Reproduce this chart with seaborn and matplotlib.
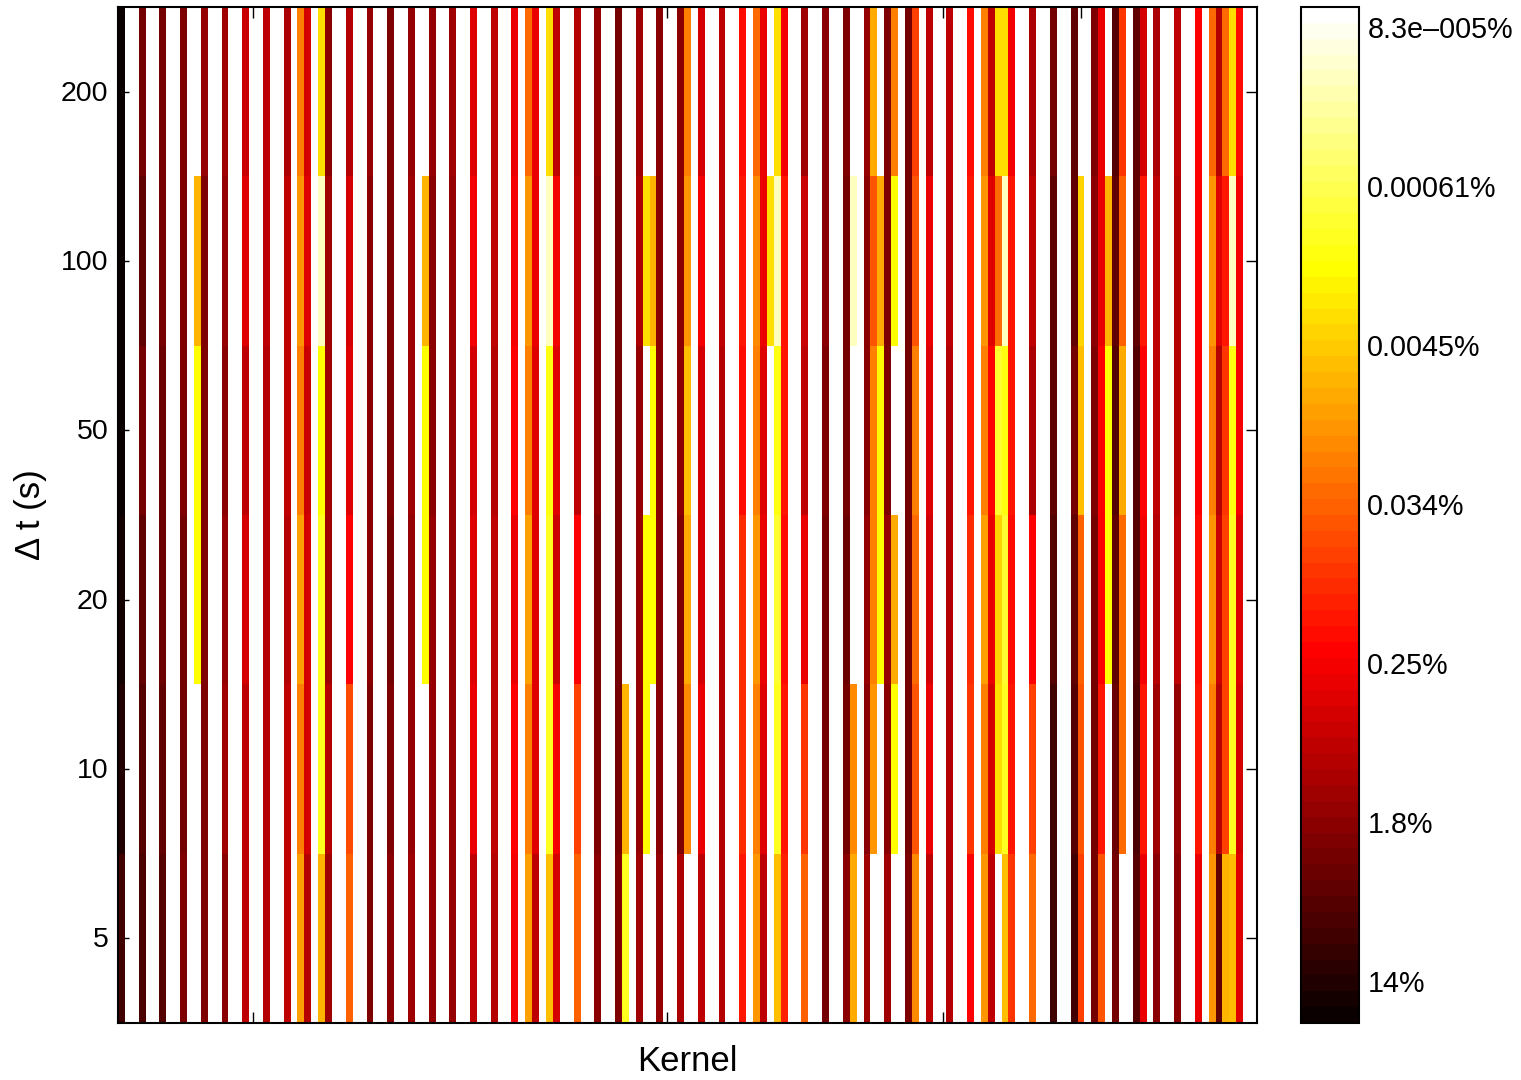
# heatmap of kernel share (%) per time window
import numpy as np
import pandas as pd
import matplotlib
matplotlib.use("Agg")
import matplotlib.pyplot as plt
from matplotlib.colors import LogNorm
from matplotlib.transforms import ScaledTranslation
import seaborn as sb

nan = float("nan")

n_kernels = 165
kernels = [1, 4, 7, 10, 12, 13, 16, 19, 22, 25,
           27, 28, 30, 31, 34, 37, 40, 43, 45, 46,
           49, 52, 55, 58, 60, 61, 63, 64, 67, 70,
           73, 74, 76, 77, 78, 79, 82, 83, 85, 88,
           91, 93, 94, 95, 96, 97, 100, 103, 106, 107,
           109, 110, 111, 112, 113, 115, 116, 118, 121, 124,
           126, 127, 128, 129, 130, 133, 136, 139, 140, 142,
           143, 144, 145, 146, 148, 149, 151, 154, 157, 159,
           160, 161, 162, 163]
delta_t = [200, 100, 50, 20, 10, 5]

pct_200 = [21.2, 2.88, 2.88, 2.36, nan, 1.58, 1.30, .583, .711, 1.06,
           .0196, .477, .0032, 1.93, .869, 1.58, 2.36, 1.58, nan, 1.58,
           1.30, .391, .711, .320, .0292, .320, .0032, .711, .869, 1.58,
           2.88, nan, 1.30, nan, nan, 1.93, 1.93, .0196, .477, .711,
           .176, .0292, .320, nan, .0032, .262, 1.30, 1.93, 2.36, nan,
           1.58, .0088, nan, 2.36, .0196, 2.88, .0648, .711, .711, .176,
           .0196, .711, .0032, .0032, .262, 1.06, 2.88, 4.30, nan, 2.36,
           .320, nan, 5.25, .0791, 4.30, .477, 1.06, .711, .215, .0292,
           .869, .0292, .0032, .176]
pct_100 = [21.2, 4.30, 2.88, 2.36, .0072, 2.36, 1.58, .391, .711, .711,
           .0131, .391, .00016, 1.30, .477, 1.93, 2.36, 1.30, .0072, 1.93,
           1.58, .262, .711, .262, .0131, .320, .00016, .262, .711, 1.93,
           2.88, nan, 1.06, .0032, .0072, 1.93, 1.93, .0131, .262, .711,
           .144, .0160, .320, .0032, .00016, .144, .583, 1.93, 2.88, .00016,
           1.93, .0435, .0088, 2.36, .0018, 2.88, .0435, .320, .711, .144,
           .0131, .391, .0292, .00016, .144, .711, 4.30, 4.30, .0040, 1.93,
           .320, .0072, 4.30, .0356, 4.30, .144, .711, .869, .215, .0131,
           .391, .144, .00016, .262]
pct_50 = [21.2, 2.88, 3.52, 2.36, .0018, 2.36, 1.93, .711, .869, .711,
          .0196, .583, .0018, 1.30, .391, 1.93, 2.36, 1.30, .0018, 1.93,
          1.58, .477, .869, .215, .0196, .391, .0015, .391, .711, 1.93,
          2.88, nan, 1.58, nan, .0018, 1.93, 1.93, .0059, .477, .869,
          .176, .0196, .391, nan, .0015, .144, .711, 2.36, 2.88, nan,
          1.93, .0196, .0018, 2.36, nan, 2.88, .0196, .391, .869, .144,
          .0196, .215, .00098, .0015, .144, 1.06, 4.30, 2.88, .0059, 2.36,
          .215, .0018, 5.25, .0088, 5.25, .215, .711, .869, .215, .0196,
          .869, .0791, .0015, .262]
pct_20 = [17.4, 4.30, 3.52, 2.88, .0018, 2.36, 1.58, .477, .869, .869,
          .0107, .477, .0012, 1.30, .215, 1.93, 2.88, 1.58, .0018, 1.58,
          1.58, .391, .711, .320, .0107, .391, .0012, .583, .215, 2.36,
          2.88, nan, 1.58, .0018, .0018, 1.93, 2.36, .0088, .477, .869,
          .0966, .0131, .320, nan, .00098, .176, .320, 2.88, 3.52, nan,
          1.58, .0196, .0018, 1.58, .0088, 2.88, .0292, .477, .869, .0966,
          .0107, .320, .0040, .00098, .176, .215, 5.25, 4.30, .0356, 2.88,
          .215, .0018, 4.30, .0292, 5.25, .262, .869, .711, .176, .0131,
          .583, .0648, .0012, .391]
pct_10 = [14.2, 5.25, 4.30, 2.88, nan, 2.36, 1.30, .711, .869, .711,
          .0196, .477, .0012, .869, .0531, 2.36, 2.36, 1.58, nan, 1.58,
          1.58, .320, .711, .215, .0196, .391, .0012, .262, .0648, 2.36,
          2.88, .0072, 1.58, .0018, nan, 1.93, 2.36, .0160, .320, .869,
          .0966, .0196, .391, nan, .0012, .144, .0791, 2.88, 2.88, .0160,
          1.93, .0131, nan, 1.93, .0018, 2.88, .0435, .320, .869, .0791,
          .0196, .477, .0032, .0012, .144, .0648, 7.82, 5.25, .0435, 2.88,
          .144, nan, 3.52, .0292, 6.41, .144, 1.30, 1.58, .144, .0196,
          .869, .0648, .0012, .477]
pct_5 = [7.82, 6.41, 5.25, 2.36, nan, 2.36, 1.93, .711, .869, .711,
         .0107, .869, .0072, 1.30, .0356, 2.36, 1.93, 1.30, nan, 1.58,
         1.58, .711, .869, .262, .0107, .711, .0059, .477, .0356, 1.93,
         2.36, .0012, 1.30, nan, nan, 1.58, 1.06, nan, .711, .869,
         .144, .0131, .711, nan, .0059, .118, .0356, 2.88, 1.93, .0088,
         1.30, nan, nan, 1.30, nan, 2.36, .0160, .711, .869, .215,
         .0131, .711, nan, .0059, .0791, .0292, 7.82, 7.82, .0648, 2.88,
         .0435, nan, 2.88, nan, 5.25, .320, 1.93, 1.93, .320, .0131,
         4.30, .0072, .0059, .391]

cbar_ticks = [8.33e-5, 0.000615, 0.004545, 0.03358, 0.2482, 1.834, 13.55]
cbar_labels = ["8.3e\u2013005%", "0.00061%", "0.0045%", "0.034%", "0.25%", "1.8%", "14%"]
x_ticks = [20, 40, 60, 80, 100, 120, 140, 160]

sb.set_style("white")
plt.rcParams["font.family"] = ["Liberation Sans", "DejaVu Sans"]
plt.rcParams["text.color"] = "black"
plt.rcParams["axes.labelcolor"] = "black"
plt.rcParams["xtick.labelcolor"] = "black"
plt.rcParams["ytick.labelcolor"] = "black"

df = pd.DataFrame([pct_200, pct_100, pct_50, pct_20, pct_10, pct_5], index=delta_t, columns=kernels)
df = df.reindex(columns=range(1, n_kernels + 1))

W, H = 1521, 1080
fig = plt.figure(figsize=(W / 100, H / 100), dpi=100)
ax = fig.add_axes([118 / W, 1 - 1023 / H, 1139 / W, 1016 / H])
cax = fig.add_axes([1301 / W, 1 - 1023 / H, 58 / W, 1016 / H])

cmap = plt.get_cmap("hot_r", 64)
sb.heatmap(df, ax=ax, cbar_ax=cax, cmap=cmap, norm=LogNorm(vmin=6.39e-5, vmax=22.7), xticklabels=False, yticklabels=True)

ax.set_xticks([k - 0.5 for k in x_ticks])
ax.set_xticklabels([])
ax.tick_params(axis="y", labelrotation=0, labelsize=20.5, pad=7, labelcolor="black")
ax.tick_params(direction="in", length=8, width=1, left=True, right=True, top=True, bottom=True, color="black")
ax.set_xlabel("Kernel", fontsize=25, labelpad=12, color="black")
ax.set_ylabel("\u0394 t (s)", fontsize=25, labelpad=10, color="black")
for s in ax.spines.values():
    s.set_visible(True)
    s.set_linewidth(1.5)
    s.set_color("black")

cb = ax.collections[0].colorbar
cb.outline.set_visible(True)
cb.outline.set_linewidth(1.5)
cb.outline.set_edgecolor("black")
cb.set_ticks(cbar_ticks, labels=cbar_labels)
cb.ax.minorticks_off()
cb.ax.invert_yaxis()
cb.ax.tick_params(direction="in", length=7, width=1, left=True, right=True, labelsize=20.7, pad=6, color="black", labelcolor="black")

# y labels sit a little below their ticks in the original, colorbar ones a bit above
down2 = ScaledTranslation(0, -2 / 100, fig.dpi_scale_trans)
for t in ax.get_yticklabels():
    t.set_transform(t.get_transform() + down2)
up1 = ScaledTranslation(0, 1 / 100, fig.dpi_scale_trans)
for t in cb.ax.get_yticklabels():
    t.set_transform(t.get_transform() + up1)

fig.savefig("out.png", dpi=100)
